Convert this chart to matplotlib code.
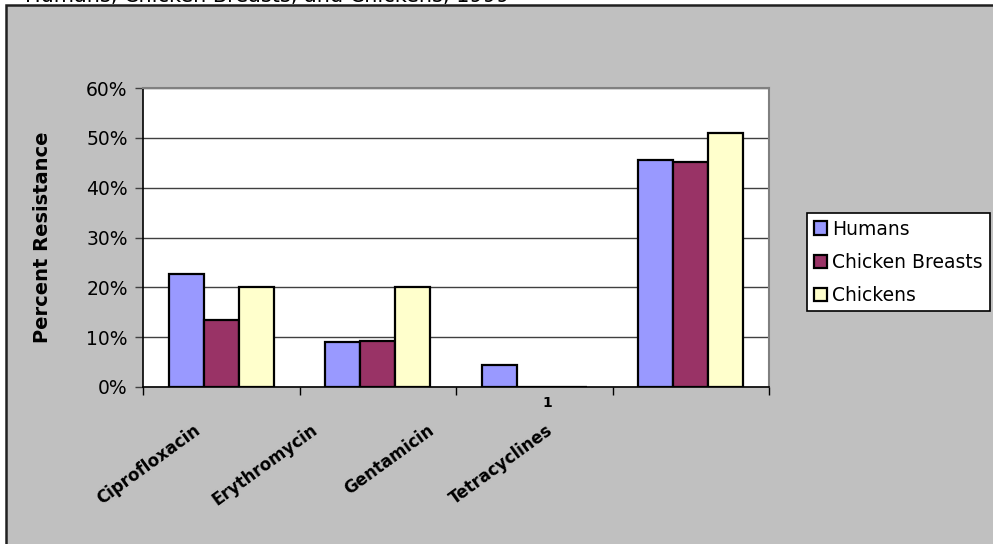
import matplotlib.pyplot as plt
from matplotlib.patches import Rectangle
from matplotlib.ticker import PercentFormatter
import numpy as np

drugs = ["Ciprofloxacin", "Erythromycin", "Gentamicin", "Tetracyclines"]
series = ["Humans", "Chicken Breasts", "Chickens"]
humans = [22.7, 9.1, 4.5, 45.5]
chicken_breasts = [13.4, 9.3, 0.0, 45.2]
chickens = [20.0, 20.0, 0.0, 51.0]
y_ticks = [0, 10, 20, 30, 40, 50, 60]

colors = ["#9999FF", "#993366", "#FFFFCC"]

plt.rcParams['font.family'] = ['DejaVu Sans']

W, H = 993, 544
fig = plt.figure(figsize=(W / 100, H / 100), dpi=100, facecolor="white")

# grey chart frame (runs off the right and bottom edges)
fig.patches.append(Rectangle((6 / W, -0.05), 1.1, 1 - 5 / H + 0.05,
                             transform=fig.transFigure, facecolor="#C0C0C0",
                             edgecolor="#202020", linewidth=1.8, zorder=-5))

# title line, mostly above the frame
fig.text(0.025, 1 - 1.5 / H, "Humans, Chicken Breasts, and Chickens, 1999",
         fontsize=15, ha="left", va="baseline", color="black")

ax = fig.add_axes([143 / W, 1 - 387 / H, 626 / W, 299 / H])
ax.set_facecolor("white")

x = np.arange(len(drugs))
width = 0.224
for i, (vals, name) in enumerate(zip([humans, chicken_breasts, chickens], series)):
    ax.bar(x + (i - 1) * width, vals, width, color=colors[i], edgecolor="black",
           linewidth=1.6, label=name, zorder=3)

ax.set_xlim(-0.5, 3.5)
ax.set_ylim(0, 60)
ax.set_yticks(y_ticks)
ax.yaxis.set_major_formatter(PercentFormatter(decimals=0))
ax.grid(axis="y", color="#404040", linewidth=1.0, zorder=1)
ax.tick_params(axis="y", direction="out", length=6, width=1, labelsize=13.5,
               pad=5, color="#404040")

# category boundary ticks on the x axis
ax.set_xticks(np.arange(-0.5, 4.0, 1.0))
ax.set_xticklabels([])
ax.tick_params(axis="x", direction="out", length=6, width=1, color="black")

for side in ["top", "right"]:
    ax.spines[side].set_color("#808080")
    ax.spines[side].set_linewidth(1.5)
for side in ["left", "bottom"]:
    ax.spines[side].set_color("black")
    ax.spines[side].set_linewidth(1.2)

# slanted category labels
label_x = [0.080, 0.267, 0.454, 0.643]
for lx, name in zip(label_x, drugs):
    ax.text(lx, -0.114, name, transform=ax.transAxes, rotation=36,
            rotation_mode="anchor", ha="right", va="top", fontsize=12,
            fontweight="bold")
ax.text(0.646, -0.055, "1", transform=ax.transAxes, ha="center", va="center",
        fontsize=10, fontweight="bold")

ax.set_ylabel("Percent Resistance", fontsize=14, fontweight="bold")
ax.yaxis.set_label_coords(-0.145, 0.5)

leg = fig.legend(loc="upper left", bbox_to_anchor=(807 / W, 1 - 213 / H),
                 fontsize=13.5, frameon=True, fancybox=False, edgecolor="black",
                 facecolor="white", framealpha=1,
                 handlelength=0.7, handleheight=0.7, handletextpad=0.3,
                 labelspacing=0.75, borderpad=0.35, borderaxespad=0)
leg.get_frame().set_linewidth(1.2)

fig.savefig("out.png", dpi=100, facecolor="white")
